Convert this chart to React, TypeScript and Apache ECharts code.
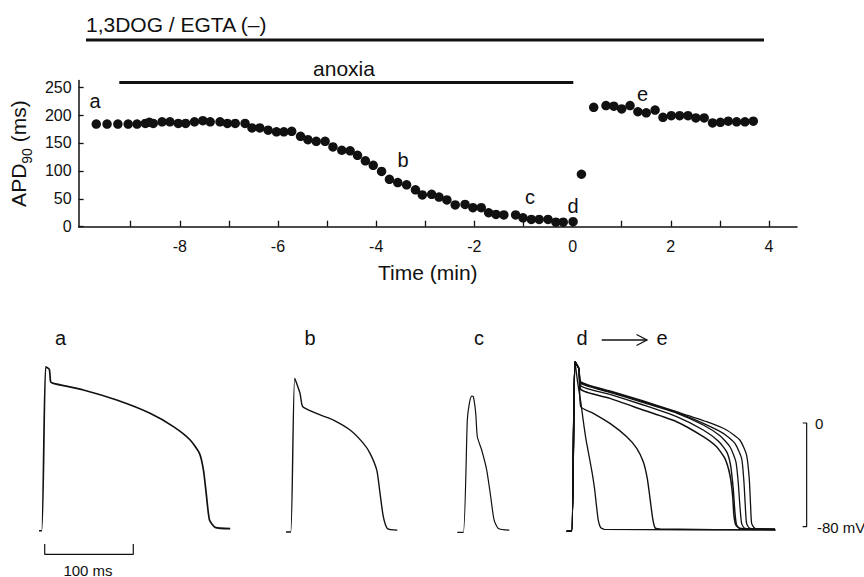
import React, { useEffect, useRef } from "react";
import * as echarts from "echarts";

const FONT = '"Liberation Sans", Arial, Helvetica, sans-serif';
const INK = "#111";

// ---------- Top panel: APD90 versus time ----------
const timeMin = [
  -9.7, -9.48, -9.26, -9.05, -8.87, -8.7, -8.62, -8.54, -8.36, -8.2, -8.03, -7.88, -7.7, -7.53, -7.38,
  -7.18, -7.03, -6.87, -6.67, -6.53, -6.37, -6.2, -6.03, -5.88, -5.72, -5.54, -5.39, -5.22, -5.04, -4.88,
  -4.7, -4.53, -4.38, -4.22, -4.06, -3.89, -3.73, -3.56, -3.38, -3.2, -3.06, -2.87, -2.72, -2.56, -2.39,
  -2.19, -2.03, -1.86, -1.71, -1.56, -1.4, -1.16, -1.01, -0.84, -0.68, -0.5, -0.34, -0.19, 0.01,
  0.18, 0.43, 0.68, 0.84, 1.0, 1.17, 1.33, 1.5, 1.68, 1.84, 2.01, 2.18, 2.35, 2.51, 2.68, 2.85, 3.01,
  3.17, 3.34, 3.51, 3.68,
];
const apdMs = [
  184, 184, 184, 184, 184, 185, 187, 185, 188, 188, 185, 185, 188, 190, 188,
  188, 185, 185, 185, 177, 177, 173, 170, 170, 171, 162, 156, 153, 153, 143,
  137, 136, 128, 118, 110, 99, 85, 79, 75, 66, 57, 58, 53, 48, 39,
  40, 34, 34, 25, 22, 21, 21, 16, 13, 13, 13, 8, 8, 9,
  94, 214, 217, 216, 211, 217, 206, 204, 209, 196, 199, 199, 199, 195, 195, 186, 187,
  189, 188, 188, 189,
];
const xTickValues = [-9, -8, -7, -6, -5, -4, -3, -2, -1, 0, 1, 2, 3, 4];
const xLabelValues = [-8, -6, -4, -2, 0, 2, 4];
const yTickValues = [0, 50, 100, 150, 200, 250];

// ---------- Bottom panel: action potentials [ms from upstroke, mV] ----------
const traceA = [
  [-5.6, -83.1], [0, -83.1], [4.5, 43.4], [8.6, 41.4], [10.1, 31.9], [13.2, 30.6], [47.1, 25.5],
  [84.7, 17.7], [122.3, 7.5], [148.7, -2.8], [167.6, -13.1], [178.1, -23.4], [182.6, -36.3],
  [185.7, -54.3], [189.4, -74.8], [195.8, -80.5], [212.8, -81.5],
];
const traceB = [
  [-5.3, -84.1], [0, -84.1], [4.5, 34.5], [10.5, 22.9], [12.4, 14.7], [14.4, 12.1], [33.2, 6.2],
  [48.2, 2.3], [67.0, -5.4], [82.0, -15.7], [89.5, -23.4], [97.1, -36.3], [100.8, -54.3],
  [104.5, -72.3], [109.0, -81.3], [120.3, -82.6],
];
const traceC = [
  [-6.8, -84.3], [0, -84.3], [4.5, 2.3], [6.8, 15.2], [9.4, 20.8], [11.3, 20.3], [14.0, 7.5],
  [15.8, -10.6], [20.7, -20.8], [26.4, -36.3], [30.9, -56.9], [34.7, -74.8], [39.5, -81.3],
  [51.9, -82.6],
];
const upstrokeDE = [[-5.6, -83.5], [0, -83.5], [3.7, 47.3]];
const traceD = [
  [7, 30], [10.5, 15], [13, 2], [16, -12], [19.5, -25], [23, -38], [25.7, -50], [28, -64],
  [30, -75], [32.5, -80.5], [37, -82], [230, -82.5],
];
const traceMid = [
  [8.2, 41.7], [10.2, 12.6], [24.4, 7.5], [43.2, -0.3], [62.1, -10.6], [73.4, -19.5], [80.8, -29.9],
  [85.3, -42.7], [88.4, -58.1], [91.4, -73.5], [94, -80.8], [99.7, -81.8], [230, -82.5],
];
const traceE1 = [
  [8.2, 41.7], [10.2, 26], [43.2, 19.0], [80.8, 10.0], [118.4, 1.0], [148.5, -10.5], [163.5, -18.3],
  [172.9, -27.3], [178.6, -40.1], [181.6, -55.6], [183.1, -71], [185.3, -78.7], [189.8, -81.3],
  [229.5, -82.0],
];
const traceE2 = [
  [8.2, 41.7], [10.2, 28.8], [43.2, 22.1], [80.8, 13.9], [118.4, 4.9], [148.5, -5.4], [165.4, -13.9],
  [174.8, -22.1], [179.3, -32.4], [182.3, -50.4], [184.2, -68.4], [186.1, -78.7], [189.8, -81.3],
  [229.5, -82.0],
];
const traceE3 = [
  [8.2, 41.7], [10.2, 30.6], [43.2, 23.7], [80.8, 15.7], [118.4, 7.7], [148.5, -1.5], [167.4, -9.8],
  [178.6, -18.3], [185.3, -29.8], [187.9, -45.3], [189.8, -63.3], [191.8, -77.4], [195.5, -81.3],
  [229.5, -82.0],
];
const traceE4 = [
  [8.2, 41.7], [10.2, 31.4], [43.2, 24.2], [80.8, 16.5], [118.4, 8.2], [148.5, -0.3], [171.1, -8.0],
  [184.2, -15.7], [191.8, -27.3], [194.4, -45.3], [195.9, -63.3], [197.4, -77.4], [201.2, -81.3],
  [229.5, -82.0],
];
const traceE5 = [
  [8.2, 41.7], [10.2, 31.9], [43.2, 24.7], [80.8, 17.0], [118.4, 8.7], [152.3, 1.0], [174.8, -5.4],
  [189.8, -13.1], [197.4, -24.7], [200.4, -42.7], [201.9, -63.3], [203.1, -77.4], [206.8, -81.3],
  [229.5, -82.0],
];
const scaleBarMs = 100;
const scaleBarMv = [0, -80];

// ---------- layout constants (positions, not data) ----------
const panelOffsetMs = { a: 1.9, b: 283.0, c: 477.8, de: 600.1 };
const timeBarStartMs = 5.3;
const timeBarMv = -101.3;
const timeBarTickMv = -93.4;
const voltBarMs = 865.3;
const voltBarTickMs = 860.8;

function traceSeries(pts: number[][], off: number, width: number) {
  return {
    type: "line",
    xAxisIndex: 1,
    yAxisIndex: 1,
    data: pts.map(([t, v]) => [t + off, v]),
    showSymbol: false,
    symbol: "none",
    smooth: 0.2,
    silent: true,
    lineStyle: { color: INK, width },
    z: 3,
  };
}

function txt(text: string, x: number, y: number, size: number, align = "center") {
  return {
    type: "text",
    x,
    y,
    silent: true,
    style: {
      text,
      fill: INK,
      font: `${size}px ${FONT}`,
      fontSize: size,
      fontFamily: FONT,
      align,
      verticalAlign: "middle",
    },
  };
}

function hline(x1: number, x2: number, y: number, w: number) {
  return {
    type: "line",
    silent: true,
    shape: { x1, y1: y, x2, y2: y },
    style: { stroke: INK, lineWidth: w },
  };
}

export default function App() {
  const ref = useRef<HTMLDivElement>(null);

  useEffect(() => {
    if (!ref.current) return;
    const chart = echarts.init(ref.current, null, { renderer: "svg" });

    const scatterData = timeMin.map((t, i) => [t, apdMs[i]]);

    const option: any = {
      animation: false,
      backgroundColor: "#fff",
      textStyle: { fontFamily: FONT, color: INK },
      grid: [
        { left: 75, top: 80.5, width: 722, height: 146.2, containLabel: false },
        { left: 40, top: 358.2, width: 797.4, height: 207.4, containLabel: false },
      ],
      xAxis: [
        {
          type: "value",
          gridIndex: 0,
          min: -10.06,
          max: 4.57,
          name: "Time (min)",
          nameLocation: "middle",
          nameGap: 35,
          nameTextStyle: { fontSize: 21, color: INK, fontFamily: FONT, padding: [0, 20, 0, 0] },
          axisLine: { show: true, onZero: false, lineStyle: { color: INK, width: 1.5 } },
          axisTick: { show: true, inside: true, length: 6, customValues: xTickValues, lineStyle: { color: INK, width: 1.3 } },
          axisLabel: { customValues: xLabelValues, fontSize: 16, color: INK, fontFamily: FONT, margin: 12 },
          splitLine: { show: false },
        },
        {
          type: "value",
          gridIndex: 1,
          min: 0,
          max: 900,
          show: false,
          splitLine: { show: false },
        },
      ],
      yAxis: [
        {
          type: "value",
          gridIndex: 0,
          min: 0,
          max: 262,
          name: "{n|APD}{s|90}{n| (ms)}",
          nameLocation: "middle",
          nameGap: 40,
          nameTextStyle: {
            color: INK,
            rich: {
              n: { fontSize: 21, fontFamily: FONT, color: INK, verticalAlign: "top", lineHeight: 26 },
              s: { fontSize: 14, fontFamily: FONT, color: INK, verticalAlign: "bottom", lineHeight: 26 },
            },
          },
          axisLine: { show: true, onZero: false, lineStyle: { color: INK, width: 1.5 } },
          axisTick: { show: true, inside: true, length: 5, customValues: yTickValues, lineStyle: { color: INK, width: 1.3 } },
          axisLabel: { customValues: yTickValues, fontSize: 16, color: INK, fontFamily: FONT, margin: 7 },
          splitLine: { show: false },
        },
        {
          type: "value",
          gridIndex: 1,
          min: -110,
          max: 50,
          show: false,
          splitLine: { show: false },
        },
      ],
      series: [
        {
          type: "scatter",
          xAxisIndex: 0,
          yAxisIndex: 0,
          data: scatterData,
          symbol: "circle",
          symbolSize: 9.5,
          itemStyle: { color: INK, opacity: 1 },
          silent: true,
          clip: false,
        },
        traceSeries(traceA, panelOffsetMs.a, 1.7),
        traceSeries(traceB, panelOffsetMs.b, 1.4),
        traceSeries(traceC, panelOffsetMs.c, 1.2),
        traceSeries([...upstrokeDE, ...traceD], panelOffsetMs.de, 1.3),
        traceSeries([...upstrokeDE, ...traceMid], panelOffsetMs.de, 1.4),
        traceSeries([...upstrokeDE, ...traceE1], panelOffsetMs.de, 1.5),
        traceSeries([...upstrokeDE, ...traceE2], panelOffsetMs.de, 1.4),
        traceSeries([...upstrokeDE, ...traceE3], panelOffsetMs.de, 1.3),
        traceSeries([...upstrokeDE, ...traceE4], panelOffsetMs.de, 1.3),
        traceSeries([...upstrokeDE, ...traceE5], panelOffsetMs.de, 1.3),
        {
          type: "line",
          xAxisIndex: 1,
          yAxisIndex: 1,
          data: [
            [timeBarStartMs, timeBarTickMv],
            [timeBarStartMs, timeBarMv],
            [timeBarStartMs + scaleBarMs, timeBarMv],
            [timeBarStartMs + scaleBarMs, timeBarTickMv],
          ],
          showSymbol: false,
          symbol: "none",
          silent: true,
          lineStyle: { color: INK, width: 1.2 },
        },
        {
          type: "line",
          xAxisIndex: 1,
          yAxisIndex: 1,
          data: [
            [voltBarTickMs, scaleBarMv[0]],
            [voltBarMs, scaleBarMv[0]],
            [voltBarMs, scaleBarMv[1]],
            [voltBarTickMs, scaleBarMv[1]],
          ],
          showSymbol: false,
          symbol: "none",
          silent: true,
          lineStyle: { color: INK, width: 1.2 },
        },
      ],
      graphic: [
        txt("1,3DOG / EGTA (\u2013)", 86, 24.3, 21, "left"),
        hline(86, 764, 40, 3),
        txt("anoxia", 344, 68, 21),
        hline(119.3, 573.3, 82.5, 3),
        txt("a", 95, 101, 20),
        txt("b", 403, 160, 20),
        txt("c", 530, 197, 20),
        txt("d", 573, 206, 20),
        txt("e", 642.5, 94, 20),
        txt("a", 60.5, 338, 20),
        txt("b", 310, 338, 20),
        txt("c", 479, 338, 20),
        txt("d", 582, 338, 20),
        txt("e", 662, 338, 20),
        hline(601.7, 646.7, 340, 1.3),
        {
          type: "polyline",
          silent: true,
          shape: { points: [[636.5, 334.5], [647, 340], [636.5, 345.5]] },
          style: { stroke: INK, lineWidth: 1.3, fill: null },
        },
        txt("100 ms", 88, 570, 15),
        txt("0", 815, 423, 15, "left"),
        txt("-80 mV", 817, 527, 15, "left"),
      ],
    };

    chart.setOption(option);
    return () => {
      chart.dispose();
    };
  }, []);

  return (
    <div
      ref={ref}
      style={{ position: "fixed", left: 0, top: 0, width: 864, height: 577, background: "#fff" }}
    />
  );
}
